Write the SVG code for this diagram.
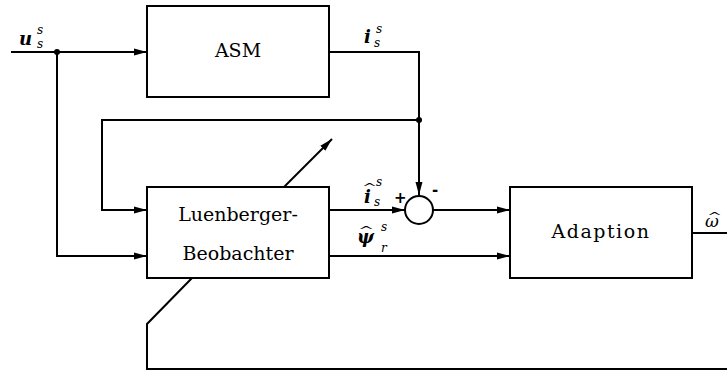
<svg xmlns="http://www.w3.org/2000/svg" width="727" height="372" viewBox="0 0 727 372">
<style>
.box{fill:#fff;stroke:#000;stroke-width:2}
.ln{fill:none;stroke:#000;stroke-width:2}
.arr{marker-end:url(#ah)}
.t{font-size:19px;text-anchor:middle;fill:#000}
.m{font-style:italic;font-weight:bold;font-size:18px;fill:#000}
.s{font-style:italic;font-size:12px;fill:#000}
.h{font-size:15px;fill:#000}
.pm{font-weight:bold;font-size:15px;fill:#000}
</style>
<defs>
<marker id="ah" markerUnits="userSpaceOnUse" markerWidth="14" markerHeight="8" refX="13" refY="4" orient="auto">
<path d="M0,0.5 L13,4 L0,7.5 z" fill="#000"/>
</marker>
</defs>
<g id="connectors">
<path class="ln arr" d="M11,52 H147"/>
<path class="ln arr" d="M57,52 V256 H147"/>
<path class="ln arr" d="M329,52 H419 V195"/>
<path class="ln arr" d="M419,120 H102 V210 H147"/>
<path class="ln arr" d="M329,210 H405"/>
<path class="ln arr" d="M433,210 H510"/>
<path class="ln arr" d="M329,256 H510"/>
<path class="ln" d="M692,233 H727"/>
<path class="ln arr" d="M284,187 L332,139"/>
<path class="ln" d="M192,278 L147,324 V369 H727"/>
<circle cx="57" cy="52" r="3" fill="#000"/>
<circle cx="419" cy="120" r="3" fill="#000"/>
</g>
<g id="asm">
<rect class="box" x="147" y="6" width="182" height="91"/>
<text class="t" x="238" y="57" style="font-family:'DejaVu Serif'">ASM</text>
</g>
<g id="luenberger">
<rect class="box" x="147" y="187" width="182" height="91"/>
<text class="t" x="238" y="221" style="font-family:'DejaVu Serif'">Luenberger-</text>
<text class="t" x="238" y="260" style="font-family:'DejaVu Serif'">Beobachter</text>
</g>
<g id="adaption">
<rect class="box" x="510" y="187" width="182" height="91"/>
<text class="t" x="601" y="238" style="font-family:'DejaVu Serif';letter-spacing:1.5px">Adaption</text>
</g>
<g id="sum">
<circle cx="419" cy="210" r="14" fill="#fff" stroke="#000" stroke-width="2"/>
<text class="pm" x="394" y="203" style="font-family:'DejaVu Sans'">+</text>
<text class="pm" x="432" y="195" style="font-family:'DejaVu Sans'">-</text>
</g>
<g id="labels">
<text class="m" x="19" y="45" style="font-family:'DejaVu Serif'">u</text>
<text class="s" x="37" y="34" style="font-family:'DejaVu Serif'">s</text>
<text class="s" x="37" y="48" style="font-family:'DejaVu Serif'">s</text>
<text class="m" x="364" y="43" style="font-family:'DejaVu Serif'">i</text>
<text class="s" x="376" y="33" style="font-family:'DejaVu Serif'">s</text>
<text class="s" x="374" y="47" style="font-family:'DejaVu Serif'">s</text>
<text class="h" transform="translate(362,191) scale(1.2,0.7)" style="font-family:'DejaVu Serif'">^</text>
<text class="m" x="364" y="203" style="font-family:'DejaVu Serif'">i</text>
<text class="s" x="376" y="186" style="font-family:'DejaVu Serif'">s</text>
<text class="s" x="374" y="206" style="font-family:'DejaVu Serif'">s</text>
<text class="h" transform="translate(358,234) scale(1.3,0.7)" style="font-family:'DejaVu Serif'">^</text>
<text class="m" x="357" y="243" style="font-family:'DejaVu Serif'">ψ</text>
<text class="s" x="381" y="231" style="font-family:'DejaVu Serif'">s</text>
<text class="s" x="381" y="252" style="font-family:'DejaVu Serif'">r</text>
<text class="h" transform="translate(707,220) scale(1.2,0.7)" style="font-family:'DejaVu Serif'">^</text>
<text class="s" x="705" y="227" style="font-family:'DejaVu Serif';font-size:17px">ω</text>
</g>
</svg>
